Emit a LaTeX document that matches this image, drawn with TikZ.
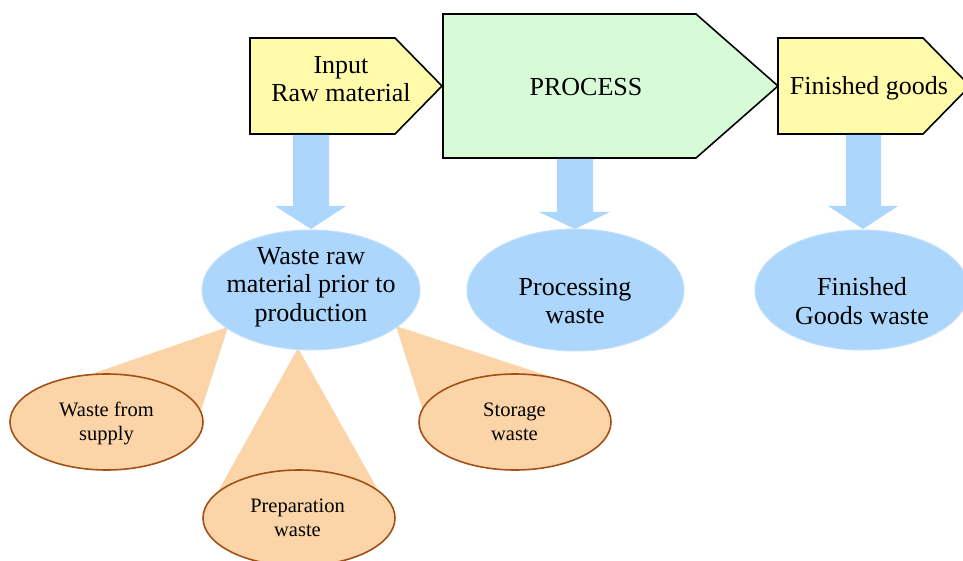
\documentclass[tikz,border=0pt]{standalone}
\usepackage{fontspec}
\setmainfont{Liberation Serif}
\usetikzlibrary{shapes.geometric}
\definecolor{ylw}{RGB}{255,251,170}
\definecolor{grn}{RGB}{214,251,214}
\definecolor{blu}{RGB}{173,214,252}
\definecolor{blued}{RGB}{192,224,253}
\definecolor{pch}{RGB}{251,213,168}
\definecolor{brn}{RGB}{162,80,24}
\begin{document}
\begin{tikzpicture}[x=1pt,y=-1pt,
  pent/.style={draw=black, line width=1.6pt, line join=miter},
  bigtxt/.style={font=\fontsize{26}{28.5}\selectfont, align=center, inner sep=0pt},
  smalltxt/.style={font=\fontsize{20.5}{24}\selectfont, align=center, inner sep=0pt},
  wasteell/.style={ellipse, fill=blu, draw=blued, line width=1pt, inner sep=0pt},
  subell/.style={ellipse, fill=pch, draw=brn, line width=1.6pt, inner sep=0pt},
  blockarrow/.style={fill=blu},
  wedge/.style={fill=pch}]
\useasboundingbox (0,0) rectangle (963,561);
\clip (0,0) rectangle (963,561);

% top pentagons
\path[pent, fill=ylw] (250,38) -- (395,38) -- (442,86) -- (395,134) -- (250,134) -- cycle;
\path[pent, fill=grn] (443,14) -- (696,14) -- (778,86) -- (696,158) -- (443,158) -- cycle;
\path[pent, fill=ylw] (778,38) -- (923,38) -- (970,86) -- (923,134) -- (778,134) -- cycle;
\node[bigtxt] (input) at (341,79) {Input\\Raw material};
\node[bigtxt] (process) at (586,87) {PROCESS};
\node[bigtxt] (finished) at (869,88) {Finished goods};

% block arrows
\fill[blockarrow] (293,135) -- (329,135) -- (329,206) -- (346,206) -- (311,229) -- (275,206) -- (293,206) -- cycle;
\fill[blockarrow] (557,159) -- (593,159) -- (593,212) -- (610,212) -- (575,229) -- (539,212) -- (557,212) -- cycle;
\fill[blockarrow] (846,135) -- (881,135) -- (881,206) -- (898,206) -- (863,229) -- (828,206) -- (846,206) -- cycle;

% callout wedges
\fill[wedge] (228,327) -- (80,378) -- (106,422) -- (198,420) -- cycle;
\fill[wedge] (298,348) -- (216,495) -- (299,517) -- (382,497) -- cycle;
\fill[wedge] (396,326) -- (425,417) -- (515,422) -- (570,383) -- cycle;

% blue waste ellipses
\node[wasteell, minimum width=218pt, minimum height=120pt] (wrm) at (311,290) {};
\node[wasteell, minimum width=217pt, minimum height=122pt] (pw) at (575.5,290) {};
\node[wasteell, minimum width=214pt, minimum height=120pt] (fgw) at (862,290) {};
\node[bigtxt] (wrmt) at (311,287) {Waste raw\\material prior to\\production};
\node[bigtxt] (pwt) at (575,301) {Processing\\waste};
\node[bigtxt] (fgwt) at (862,301) {Finished\\Goods waste};

% orange sub ellipses
\node[subell, minimum width=193pt, minimum height=96pt] (ws) at (106.5,422) {};
\node[subell, minimum width=192pt, minimum height=96pt] (prep) at (299,518) {};
\node[subell, minimum width=192pt, minimum height=96pt] (stor) at (515,422) {};
\node[smalltxt] (wst) at (106.5,423) {Waste from\\supply};
\node[smalltxt] (prept) at (297.5,518) {Preparation\\waste};
\node[smalltxt] (stort) at (514.5,422) {Storage\\waste};
\end{tikzpicture}
\end{document}
